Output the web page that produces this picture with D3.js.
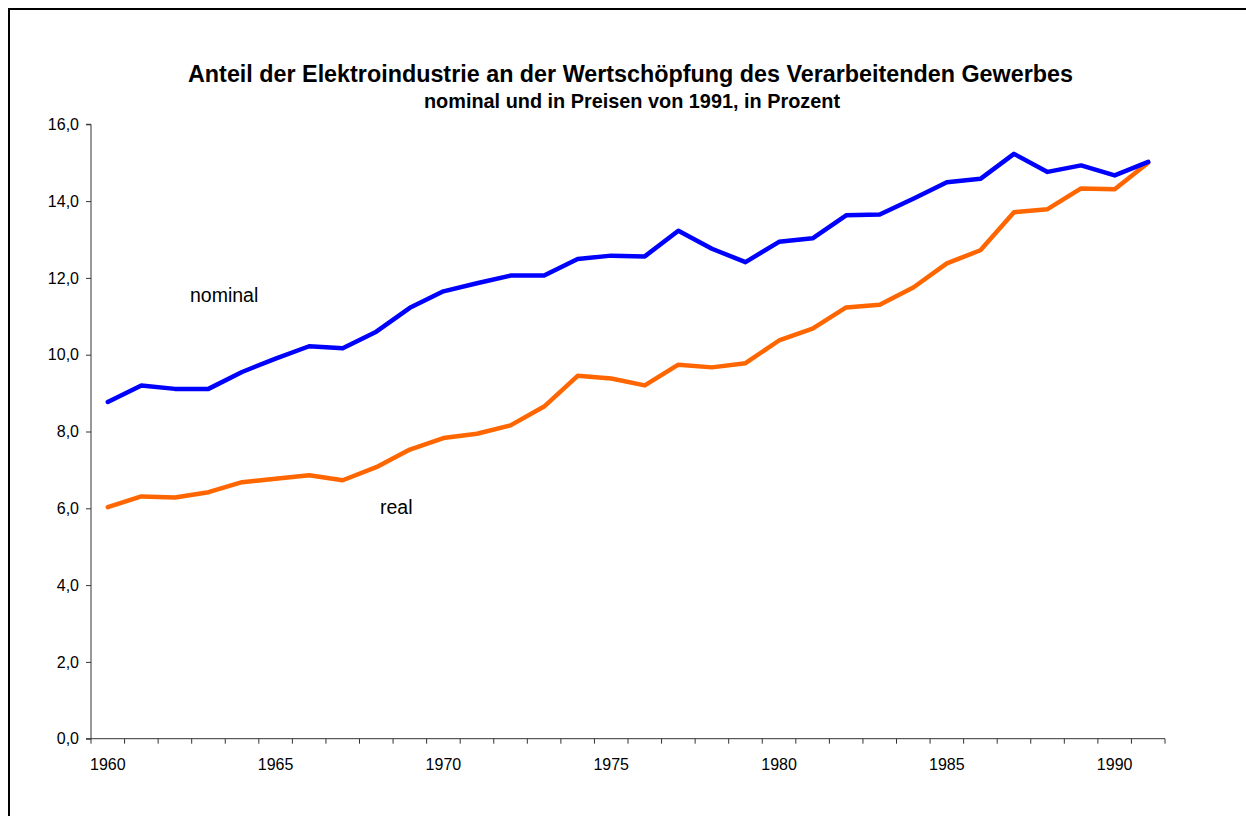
<!DOCTYPE html>
<html><head><meta charset="utf-8">
<script src="https://cdn.jsdelivr.net/npm/d3@7"></script>
<style>
html,body{margin:0;padding:0;background:#fff;}
svg{display:block;font-family:Arial,"Liberation Sans",sans-serif;}
</style></head>
<body>
<svg id="c" width="1246" height="816"></svg>
<script>
const years = d3.range(1960, 1992);
const nominal = [8.77, 9.20, 9.11, 9.11, 9.55, 9.90, 10.22, 10.17, 10.60, 11.22, 11.65, 11.86, 12.06, 12.06, 12.49, 12.58, 12.56, 13.23, 12.76, 12.41, 12.94, 13.03, 13.63, 13.65, 14.06, 14.49, 14.58, 15.23, 14.76, 14.93, 14.67, 15.02];
const real = [6.03, 6.31, 6.28, 6.42, 6.68, 6.77, 6.86, 6.73, 7.07, 7.53, 7.83, 7.94, 8.16, 8.65, 9.45, 9.38, 9.20, 9.74, 9.67, 9.78, 10.37, 10.68, 11.23, 11.30, 11.75, 12.38, 12.72, 13.71, 13.79, 14.33, 14.31, 15.00];
const yTicks = [0, 2, 4, 6, 8, 10, 12, 14, 16];
const xLabelYears = [1960, 1965, 1970, 1975, 1980, 1985, 1990];
const titleText = "Anteil der Elektroindustrie an der Wertschöpfung des Verarbeitenden Gewerbes";
const subtitleText = "nominal und in Preisen von 1991, in Prozent";

(function(){
const svg = d3.select("#c");
const FONT = "Arial, 'Liberation Sans', sans-serif";
// frame
svg.append("path").attr("d","M9,816 L9,9 L1246,9").attr("fill","none").attr("stroke","#000").attr("stroke-width",2);

const pL = 91, pR = 1165, pT = 124.3, pB = 738.7;
const x = d3.scaleBand().domain(years).range([pL, pR]);
const y = d3.scaleLinear().domain([0, 16]).range([pB, pT]);
const cx = d => x(d) + x.bandwidth()/2;

function fitText(sel, targetW, base) {
  const w = sel.node().getComputedTextLength();
  if (w > 0) sel.attr("font-size", (base * targetW / w).toFixed(2));
}

// title
const t1 = svg.append("text").attr("x", 630.5).attr("y", 82).attr("text-anchor","middle")
  .attr("font-size", 20).attr("font-weight","bold").attr("fill","#000").text(titleText);
fitText(t1, 885, 20);
const t2 = svg.append("text").attr("x", 632).attr("y", 108).attr("text-anchor","middle")
  .attr("font-size", 15).attr("font-weight","bold").attr("fill","#000").text(subtitleText);
fitText(t2, 416, 15);

// y axis
const gy = svg.append("g").attr("transform",`translate(${pL},0)`)
  .call(d3.axisLeft(y).tickValues(yTicks).tickSize(5).tickPadding(7)
    .tickFormat(d => d3.format(".1f")(d).replace(".", ",")));
gy.select(".domain").attr("stroke","#333").attr("d", `M-5,${pT}H0V${pB}`);
gy.selectAll(".tick line").attr("stroke","#333");
gy.selectAll(".tick text").attr("font-size",16).attr("font-family",FONT).attr("fill","#000");

// x axis: boundary ticks
const gx = svg.append("g").attr("transform",`translate(0,${pB})`);
gx.append("line").attr("x1", pL - 5).attr("x2", pR).attr("y1",0).attr("y2",0).attr("stroke","#333");
const bounds = years.map(d => x(d)).concat([pR]);
gx.selectAll("line.tk").data(bounds).join("line").attr("class","tk")
  .attr("x1", d => d).attr("x2", d => d).attr("y1", 0).attr("y2", 5).attr("stroke","#333");
gx.selectAll("text").data(xLabelYears).join("text")
  .attr("x", d => cx(d)).attr("y", 31).attr("text-anchor","middle")
  .attr("font-size",16).attr("fill","#000").text(d => d);

// lines
const line = d3.line().x((d,i) => cx(years[i])).y(d => y(d));
svg.append("path").datum(real).attr("d", line).attr("fill","none")
  .attr("stroke","#FF6600").attr("stroke-width",4.5).attr("stroke-linejoin","round").attr("stroke-linecap","round");
svg.append("path").datum(nominal).attr("d", line).attr("fill","none")
  .attr("stroke","#0000FF").attr("stroke-width",4.5).attr("stroke-linejoin","round").attr("stroke-linecap","round");

// labels
svg.append("text").attr("x", 190).attr("y", 302).attr("font-size",19.5).attr("fill","#000").text("nominal");
svg.append("text").attr("x", 380).attr("y", 514).attr("font-size",19.5).attr("fill","#000").text("real");
})();
</script>
</body></html>
